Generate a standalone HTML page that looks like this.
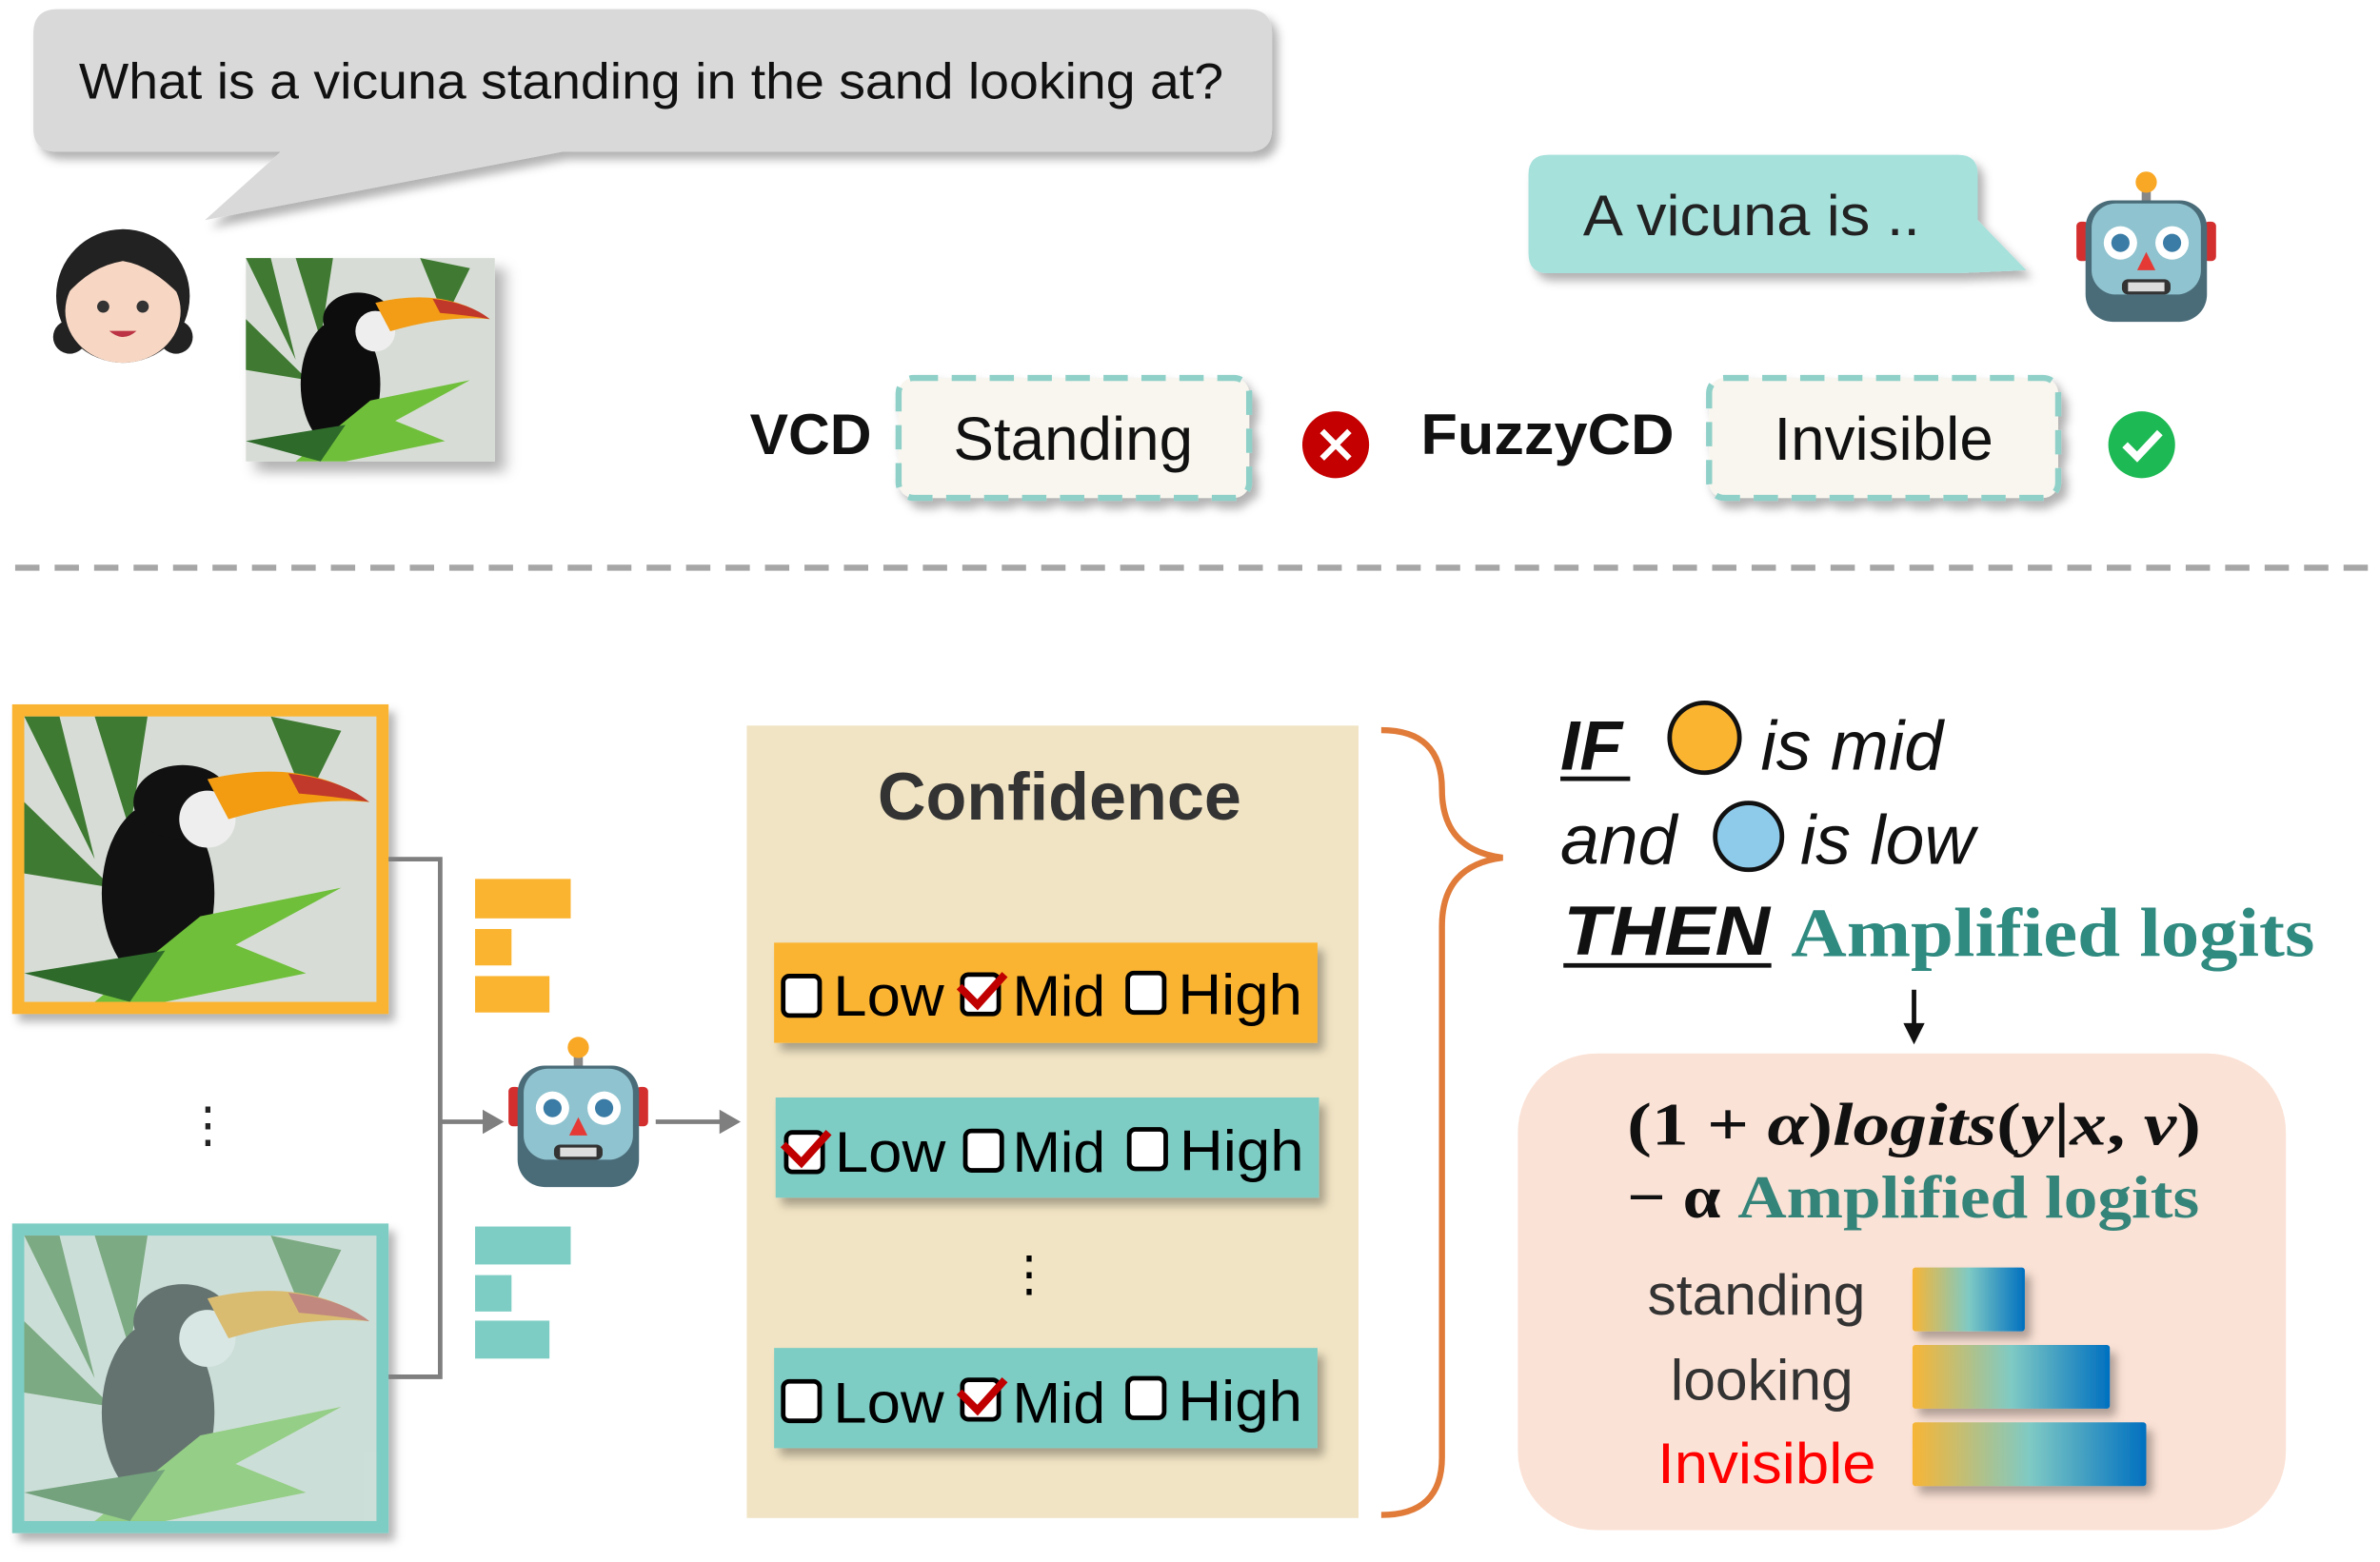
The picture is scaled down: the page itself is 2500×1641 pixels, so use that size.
<!DOCTYPE html>
<html><head><meta charset="utf-8"><style>html,body{margin:0;padding:0;background:#fff}svg{display:block}</style></head><body>
<svg width="2500" height="1641" viewBox="0 0 1568 1029" preserveAspectRatio="none" xmlns="http://www.w3.org/2000/svg" font-family="Liberation Sans, sans-serif">
<defs>
<filter id="sh" x="-10%" y="-10%" width="130%" height="140%"><feDropShadow dx="4" dy="5" stdDeviation="3" flood-color="#000" flood-opacity="0.3"/></filter>
<linearGradient id="bg" x1="0" x2="1"><stop offset="0" stop-color="#f7b536"/><stop offset="0.5" stop-color="#7fcac4"/><stop offset="1" stop-color="#0070c0"/></linearGradient>
<g id="robot">
<rect x="-3" y="-2" width="6" height="10" fill="#888"/>
<circle cx="0" cy="-6" r="7" fill="#f9a825"/>
<rect x="-46" y="20" width="8" height="26" rx="3" fill="#d32f2f"/>
<rect x="38" y="20" width="8" height="26" rx="3" fill="#d32f2f"/>
<rect x="-40" y="6" width="80" height="80" rx="18" fill="#4a6c79"/>
<rect x="-36" y="8" width="72" height="60" rx="16" fill="#8fc3cf"/>
<circle cx="-17" cy="34" r="11" fill="#fff"/><circle cx="-17" cy="34" r="6" fill="#3a7ca5"/>
<circle cx="17" cy="34" r="11" fill="#fff"/><circle cx="17" cy="34" r="6" fill="#3a7ca5"/>
<path d="M0 40 L-6 52 L6 52Z" fill="#e53935"/>
<rect x="-16" y="58" width="32" height="10" rx="4" fill="#333"/>
<rect x="-12" y="60" width="24" height="6" fill="#ddd"/>
</g>
<g id="toucan">
<rect width="100" height="100" fill="#d7ddd6"/>
<path d="M0 0 L20 50 L10 0Z M20 0 L30 40 L35 0Z M70 0 L80 30 L90 5Z M0 30 L25 60 L0 55Z" fill="#3f7a33"/>
<ellipse cx="38" cy="62" rx="16" ry="32" fill="#111"/>
<ellipse cx="45" cy="30" rx="14" ry="13" fill="#111"/>
<ellipse cx="52" cy="36" rx="8" ry="10" fill="#eee"/>
<path d="M52 22 Q80 14 98 30 Q80 28 58 36Z" fill="#f39c12"/>
<path d="M75 20 Q90 22 98 30 Q88 28 78 27Z" fill="#c0392b"/>
<path d="M20 100 L50 70 L90 60 L60 80 L80 90 L40 100Z" fill="#6fbf3a"/>
<path d="M0 90 L40 82 L30 100Z" fill="#2e6b2a"/>
</g>
<g id="cb"><rect x="0" y="0" width="24" height="26" rx="4" fill="#fff" stroke="#000" stroke-width="3"/></g>
<g id="ck"><path d="M-4 10 L8 22 L26 2" fill="none" stroke="#c00000" stroke-width="5"/></g>
</defs>

<g filter="url(#sh)">
<path d="M38 6 H822 Q838 6 838 22 V85 Q838 100 822 100 H370 L135 145 L185 100 H38 Q22 100 22 85 V22 Q22 6 38 6Z" fill="#d9d9d9"/>
</g>
<text x="52" y="65" font-size="33" fill="#111" textLength="754" lengthAdjust="spacingAndGlyphs">What is a vicuna standing in the sand looking at?</text>

<circle cx="46" cy="222" r="11" fill="#222"/><circle cx="116" cy="222" r="11" fill="#222"/>
<circle cx="81" cy="195" r="44" fill="#222"/>
<ellipse cx="81" cy="205" rx="38" ry="34" fill="#f7d7c4"/>
<path d="M43 195 Q50 160 81 162 Q112 160 119 195 Q100 175 81 172 Q60 175 43 195Z" fill="#222"/>
<circle cx="68" cy="202" r="4" fill="#333"/><circle cx="94" cy="202" r="4" fill="#333"/>
<path d="M72 218 Q81 226 90 218Z" fill="#b34"/>

<g transform="translate(162,170) scale(1.64,1.34)" filter="url(#sh)"><use href="#toucan"/></g>

<g filter="url(#sh)">
<path d="M1020 102 H1290 Q1303 102 1303 115 V145 L1335 178 L1290 180 H1020 Q1007 180 1007 167 V115 Q1007 102 1020 102Z" fill="#a6e1dc"/>
</g>
<text x="1043" y="155" font-size="38" fill="#222" textLength="222" lengthAdjust="spacingAndGlyphs">A vicuna is ..</text>
<g transform="translate(1414,126)"><use href="#robot"/></g>

<text x="494" y="299" font-size="38" font-weight="bold" fill="#111">VCD</text>
<rect x="592" y="249" width="231" height="79" rx="10" fill="#f8f6ee" stroke="#8fd0c8" stroke-width="4" stroke-dasharray="16 9" filter="url(#sh)"/>
<text x="707" y="303" font-size="40" text-anchor="middle" fill="#111">Standing</text>
<circle cx="880" cy="293" r="22" fill="#c40000"/>
<path d="M871 284 L889 302 M889 284 L871 302" stroke="#fff" stroke-width="4"/>
<text x="936" y="299" font-size="38" font-weight="bold" fill="#111" textLength="167" lengthAdjust="spacingAndGlyphs">FuzzyCD</text>
<rect x="1126" y="249" width="230" height="79" rx="10" fill="#f8f6ee" stroke="#8fd0c8" stroke-width="4" stroke-dasharray="16 9" filter="url(#sh)"/>
<text x="1241" y="303" font-size="40" text-anchor="middle" fill="#111">Invisible</text>
<circle cx="1411" cy="293" r="22" fill="#1db954"/>
<path d="M1400 293 L1408 301 L1423 285" stroke="#fff" stroke-width="5" fill="none"/>

<line x1="10" y1="374" x2="1568" y2="374" stroke="#a6a6a6" stroke-width="4" stroke-dasharray="16 10"/>

<g filter="url(#sh)"><rect x="8" y="464" width="248" height="204" fill="#fbb430"/></g>
<g transform="translate(16,472) scale(2.32,1.88)"><use href="#toucan"/></g>
<g filter="url(#sh)"><rect x="8" y="806" width="248" height="204" fill="#7ecdc4"/></g>
<g transform="translate(16,814) scale(2.32,1.88)" opacity="0.75"><use href="#toucan"/></g>
<rect x="16" y="814" width="232" height="188" fill="#e8ece8" opacity="0.3"/>
<text x="137" y="752" font-size="32" text-anchor="middle" fill="#222">⋮</text>

<path d="M256 566 H290 V907 H256 M290 739 H320" stroke="#7f7f7f" stroke-width="3" fill="none"/>
<path d="M332 739 L318 731 L318 747Z" fill="#7f7f7f"/>
<rect x="313" y="579" width="63" height="26" fill="#fbb430"/>
<rect x="313" y="612" width="24" height="24" fill="#fbb430"/>
<rect x="313" y="643" width="49" height="24" fill="#fbb430"/>
<rect x="313" y="808" width="63" height="25" fill="#7ecdc4"/>
<rect x="313" y="840" width="24" height="24" fill="#7ecdc4"/>
<rect x="313" y="870" width="49" height="25" fill="#7ecdc4"/>
<g transform="translate(381,696)"><use href="#robot"/></g>
<path d="M432 739 H476" stroke="#7f7f7f" stroke-width="3"/>
<path d="M488 739 L474 731 L474 747Z" fill="#7f7f7f"/>

<rect x="492" y="478" width="403" height="522" fill="#f1e4c4"/>
<text x="698" y="540" font-size="44" font-weight="bold" text-anchor="middle" fill="#333">Confidence</text>
<g font-size="38" fill="#000">
<rect x="510" y="621" width="358" height="66" fill="#fbb430" filter="url(#sh)"/>
<use href="#cb" x="516" y="643"/><text x="549" y="669" textLength="73" lengthAdjust="spacingAndGlyphs">Low</text>
<use href="#cb" x="634" y="642"/><use href="#ck" x="636" y="640"/><text x="667" y="669">Mid</text>
<use href="#cb" x="743" y="641"/><text x="776" y="668" textLength="82" lengthAdjust="spacingAndGlyphs">High</text>
<rect x="511" y="723" width="358" height="66" fill="#7ecdc4" filter="url(#sh)"/>
<use href="#cb" x="518" y="746"/><use href="#ck" x="520" y="744"/><text x="550" y="772" textLength="73" lengthAdjust="spacingAndGlyphs">Low</text>
<use href="#cb" x="636" y="745"/><text x="667" y="772">Mid</text>
<use href="#cb" x="744" y="744"/><text x="777" y="771" textLength="82" lengthAdjust="spacingAndGlyphs">High</text>
<text x="678" y="850" font-size="32" text-anchor="middle">⋮</text>
<rect x="510" y="888" width="358" height="66" fill="#7ecdc4" filter="url(#sh)"/>
<use href="#cb" x="516" y="910"/><text x="549" y="937" textLength="73" lengthAdjust="spacingAndGlyphs">Low</text>
<use href="#cb" x="634" y="909"/><use href="#ck" x="636" y="907"/><text x="667" y="937">Mid</text>
<use href="#cb" x="743" y="908"/><text x="776" y="936" textLength="82" lengthAdjust="spacingAndGlyphs">High</text>
</g>

<path d="M910 481 Q950 481 950 520 Q950 560 990 565 Q950 570 950 610 V960 Q950 998 910 998" fill="none" stroke="#e07b39" stroke-width="4"/>

<g font-style="italic" font-size="46" fill="#111">
<text x="1028" y="507" font-weight="bold">IF</text>
<line x1="1028" y1="513" x2="1074" y2="513" stroke="#111" stroke-width="3"/>
<circle cx="1123" cy="486" r="23" fill="#fbb430" stroke="#111" stroke-width="3"/>
<text x="1160" y="507">is mid</text>
<text x="1028" y="569">and</text>
<circle cx="1152" cy="551" r="22" fill="#8ecbea" stroke="#111" stroke-width="3"/>
<text x="1186" y="569">is low</text>
<text x="1030" y="629" font-weight="bold" textLength="136" lengthAdjust="spacingAndGlyphs">THEN</text>
<line x1="1030" y1="636" x2="1167" y2="636" stroke="#111" stroke-width="3"/>
</g>
<text x="1180" y="630" font-family="Liberation Serif, serif" font-weight="bold" font-size="46" fill="#2f8a80" textLength="345" lengthAdjust="spacingAndGlyphs">Amplified logits</text>
<path d="M1261 652 V676" stroke="#111" stroke-width="3"/><path d="M1261 688 L1254 674 L1268 674Z" fill="#111"/>

<rect x="1000" y="694" width="506" height="314" rx="52" fill="#fbe2d6"/>
<text x="1072" y="754" font-family="Liberation Serif, serif" font-weight="bold" font-size="40" fill="#111" textLength="378" lengthAdjust="spacingAndGlyphs">(1 + <tspan font-style="italic">α</tspan>)<tspan font-style="italic">logits</tspan>(<tspan font-style="italic">y</tspan>|<tspan font-style="italic">x</tspan>, <tspan font-style="italic">v</tspan>)</text>
<text x="1072" y="802" font-family="Liberation Serif, serif" font-weight="bold" font-size="40" fill="#111" textLength="377" lengthAdjust="spacingAndGlyphs">− α <tspan fill="#35847a">Amplified logits</tspan></text>
<g font-size="38">
<text x="1229" y="866" text-anchor="end" fill="#333">standing</text>
<text x="1221" y="922" text-anchor="end" fill="#333">looking</text>
<text x="1236" y="977" text-anchor="end" fill="#f00" textLength="144" lengthAdjust="spacingAndGlyphs">Invisible</text>
</g>
<rect x="1260" y="835" width="74" height="42" rx="2" fill="url(#bg)" filter="url(#sh)"/>
<rect x="1260" y="886" width="130" height="42" rx="2" fill="url(#bg)" filter="url(#sh)"/>
<rect x="1260" y="937" width="154" height="42" rx="2" fill="url(#bg)" filter="url(#sh)"/>
</svg>
</body></html>
